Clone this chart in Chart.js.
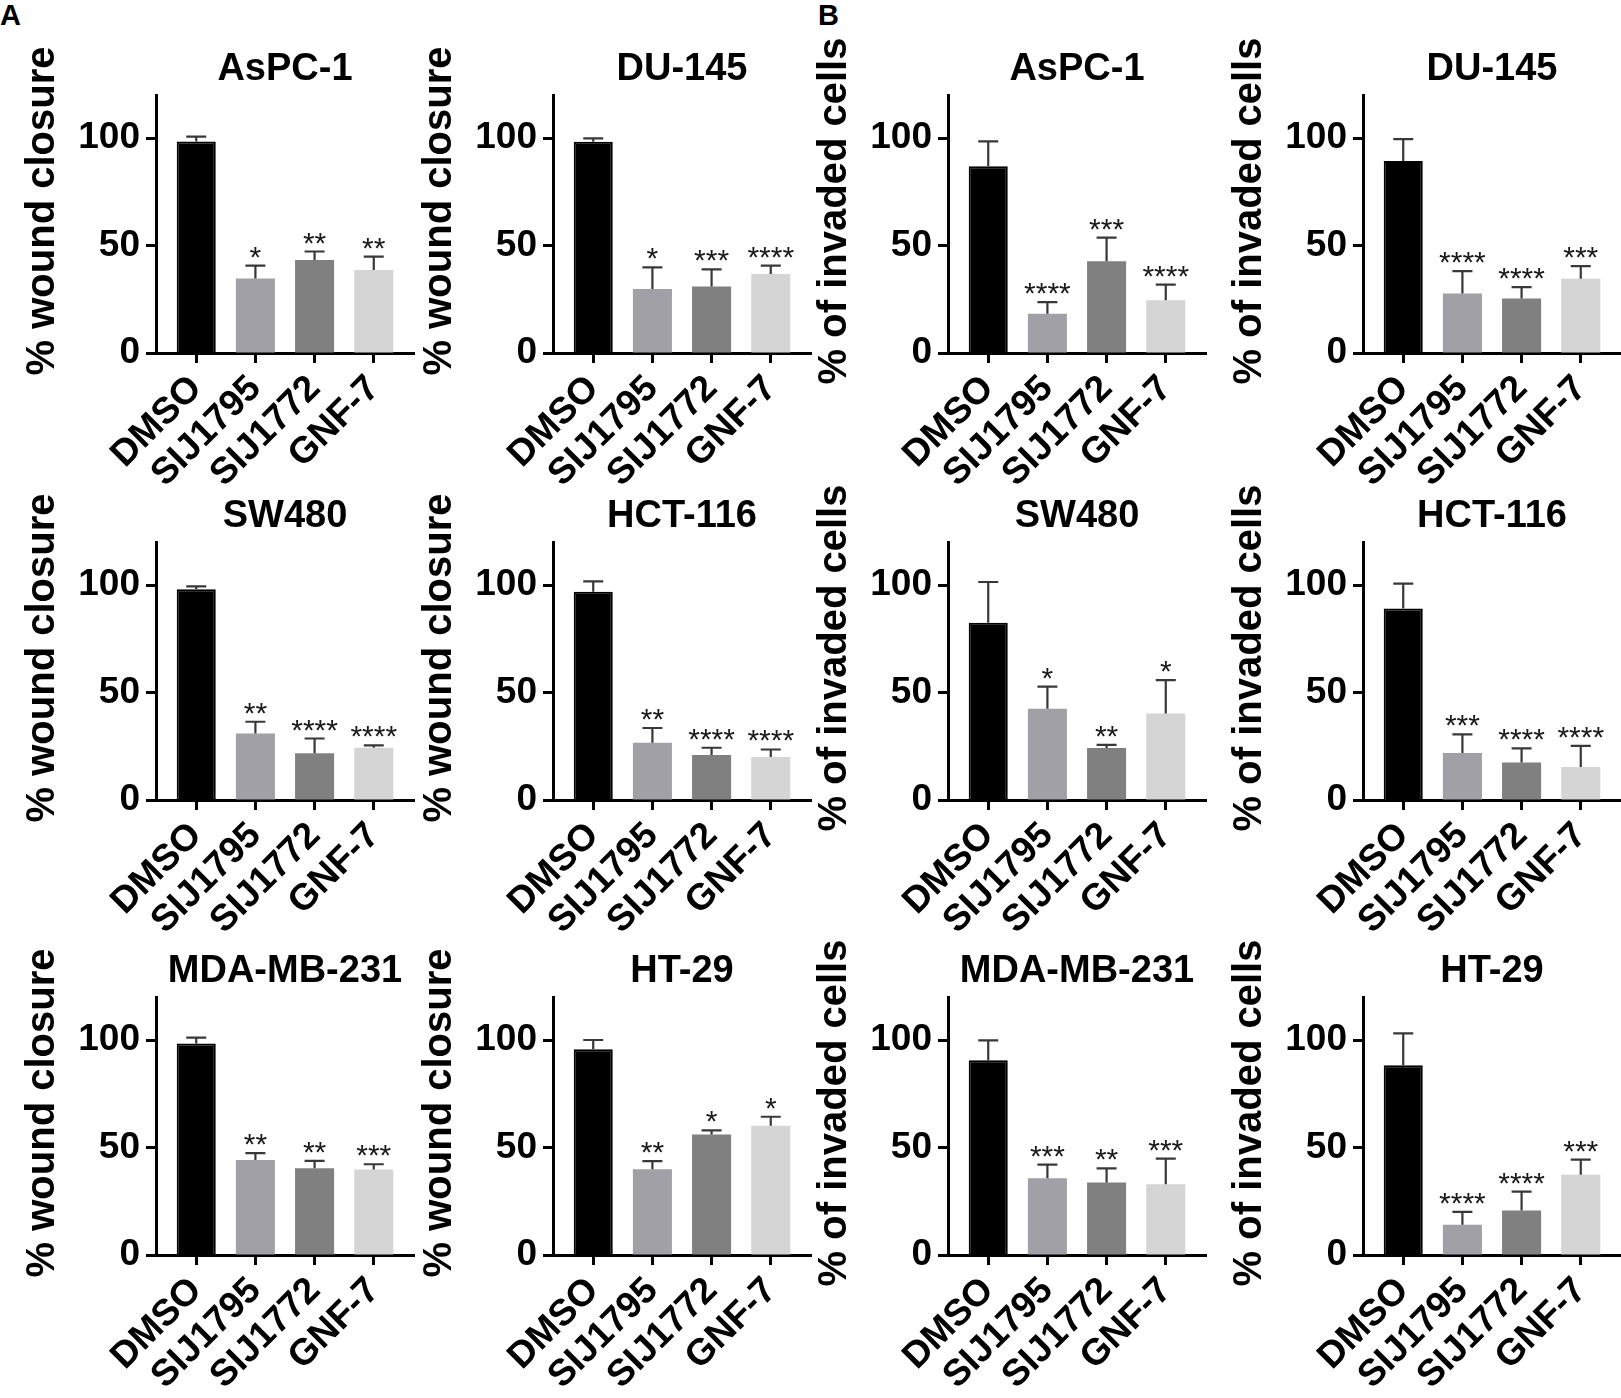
<!DOCTYPE html>
<html>
<head>
<meta charset="utf-8">
<script src="https://cdn.jsdelivr.net/npm/chart.js@4.4.1/dist/chart.umd.min.js"></script>
<style>
  html, body { margin: 0; padding: 0; background: #fff; }
  #page { position: relative; width: 1621px; height: 1398px; overflow: hidden; background: #fff; }
  #page canvas { position: absolute; }
  .tag { position: absolute; font-family: "Liberation Sans", Arial, sans-serif; font-weight: bold; font-size: 29px; line-height: 29px; color: #000; }
</style>
</head>
<body>
<div id="page">
  <div class="tag" style="left:0px;top:1px">A</div>
  <div class="tag" style="left:818px;top:1px">B</div>
</div>
<script>
/* ---------- data ---------- */
const GROUPS = ["DMSO", "SIJ1795", "SIJ1772", "GNF-7"];
const Y_TICKS = [0, 50, 100];
const Y_MAX = 120;
const WOUND_LABEL = "% wound closure";
const INVADE_LABEL = "% of invaded cells";

// A: wound closure (mean, SD, significance)
const woundAsPC1     = [98.4, 34.7, 43.3, 38.6];
const woundAsPC1Err  = [2.2, 5.9, 3.9, 6.2];
const woundAsPC1Sig  = ["", "*", "**", "**"];
const woundDU145     = [98.3, 29.8, 30.9, 36.7];
const woundDU145Err  = [1.5, 10.0, 8.0, 3.9];
const woundDU145Sig  = ["", "*", "***", "****"];
const woundSW480     = [98.0, 30.9, 21.7, 24.3];
const woundSW480Err  = [1.4, 5.5, 6.9, 1.1];
const woundSW480Sig  = ["", "**", "****", "****"];
const woundHCT116    = [96.9, 26.6, 20.9, 20.0];
const woundHCT116Err = [4.8, 6.9, 3.4, 3.5];
const woundHCT116Sig = ["", "**", "****", "****"];
const woundMDA       = [98.4, 44.2, 40.4, 39.8];
const woundMDAErr    = [2.7, 3.2, 3.4, 2.4];
const woundMDASig    = ["", "**", "**", "***"];
const woundHT29      = [95.7, 39.9, 56.0, 60.1];
const woundHT29Err   = [4.3, 3.8, 2.0, 4.2];
const woundHT29Sig   = ["", "**", "*", "*"];

// B: invaded cells (mean, SD, significance)
const invAsPC1     = [86.9, 18.2, 42.7, 24.5];
const invAsPC1Err  = [11.5, 5.5, 11.0, 7.3];
const invAsPC1Sig  = ["", "****", "***", "****"];
const invDU145     = [89.3, 27.7, 25.4, 34.5];
const invDU145Err  = [10.2, 10.4, 5.2, 5.9];
const invDU145Sig  = ["", "****", "****", "***"];
const invSW480     = [82.5, 42.5, 24.2, 40.2];
const invSW480Err  = [18.9, 10.2, 1.4, 15.6];
const invSW480Sig  = ["", "*", "**", "*"];
const invHCT116    = [89.1, 21.9, 17.5, 15.3];
const invHCT116Err = [11.5, 8.6, 6.5, 9.9];
const invHCT116Sig = ["", "***", "****", "****"];
const invMDA       = [90.6, 35.7, 33.7, 32.9];
const invMDAErr    = [9.2, 6.3, 6.6, 11.9];
const invMDASig    = ["", "***", "**", "***"];
const invHT29      = [88.2, 14.1, 20.7, 37.3];
const invHT29Err   = [14.9, 6.0, 8.8, 7.1];
const invHT29Sig   = ["", "****", "****", "***"];

/* ---------- look & layout ---------- */
const FONT = '"Liberation Sans", Arial, Helvetica, sans-serif';
const BAR_COLORS = ["#000000", "#a0a0a6", "#808080", "#d5d5d5"];
const COL_X = [156, 553, 948, 1363];   // y-axis line of each column
const ROW_TOP = [95, 542, 997];        // top of each plot area
const PLOT_W = 258, PLOT_H = 258;
const AXIS_W = 140, TITLE_H = 75, XLAB_H = 150;

const PANELS = [
  { title: "AsPC-1",     y: WOUND_LABEL,  mean: woundAsPC1,  err: woundAsPC1Err,  sig: woundAsPC1Sig,  col: 0, row: 0 },
  { title: "DU-145",     y: WOUND_LABEL,  mean: woundDU145,  err: woundDU145Err,  sig: woundDU145Sig,  col: 1, row: 0 },
  { title: "AsPC-1",     y: INVADE_LABEL, mean: invAsPC1,    err: invAsPC1Err,    sig: invAsPC1Sig,    col: 2, row: 0 },
  { title: "DU-145",     y: INVADE_LABEL, mean: invDU145,    err: invDU145Err,    sig: invDU145Sig,    col: 3, row: 0 },
  { title: "SW480",      y: WOUND_LABEL,  mean: woundSW480,  err: woundSW480Err,  sig: woundSW480Sig,  col: 0, row: 1 },
  { title: "HCT-116",    y: WOUND_LABEL,  mean: woundHCT116, err: woundHCT116Err, sig: woundHCT116Sig, col: 1, row: 1 },
  { title: "SW480",      y: INVADE_LABEL, mean: invSW480,    err: invSW480Err,    sig: invSW480Sig,    col: 2, row: 1 },
  { title: "HCT-116",    y: INVADE_LABEL, mean: invHCT116,   err: invHCT116Err,   sig: invHCT116Sig,   col: 3, row: 1 },
  { title: "MDA-MB-231", y: WOUND_LABEL,  mean: woundMDA,    err: woundMDAErr,    sig: woundMDASig,    col: 0, row: 2 },
  { title: "HT-29",      y: WOUND_LABEL,  mean: woundHT29,   err: woundHT29Err,   sig: woundHT29Sig,   col: 1, row: 2 },
  { title: "MDA-MB-231", y: INVADE_LABEL, mean: invMDA,      err: invMDAErr,      sig: invMDASig,      col: 2, row: 2 },
  { title: "HT-29",      y: INVADE_LABEL, mean: invHT29,     err: invHT29Err,     sig: invHT29Sig,     col: 3, row: 2 },
];

// upper SD whisker + significance stars above each bar
const errorBars = {
  id: "errorBars",
  afterDatasetsDraw(chart) {
    const { ctx } = chart;
    const y = chart.scales.y;
    const ds = chart.data.datasets[0];
    const meta = chart.getDatasetMeta(0);
    ctx.save();
    ctx.strokeStyle = "#383838";
    ctx.lineWidth = 2.2;
    ctx.fillStyle = "#1a1a1a";
    ctx.font = "30px " + FONT;
    ctx.textAlign = "center";
    ctx.textBaseline = "alphabetic";
    meta.data.forEach((bar, i) => {
      const top = y.getPixelForValue(ds.data[i].y + ds.err[i]);
      ctx.beginPath();
      ctx.moveTo(bar.x, bar.y);
      ctx.lineTo(bar.x, top);
      ctx.moveTo(bar.x - 10, top);
      ctx.lineTo(bar.x + 10, top);
      ctx.stroke();
      if (ds.sig[i]) ctx.fillText(ds.sig[i], bar.x, top + 1);
    });
    ctx.restore();
  }
};

// rotated y-axis title, sitting a little above the middle of the plot like the original
const yTitle = {
  id: "yTitle",
  afterDraw(chart, args, opts) {
    const { ctx, chartArea } = chart;
    ctx.save();
    ctx.translate(chartArea.left - opts.gap, (chartArea.top + chartArea.bottom) / 2 - opts.lift);
    ctx.rotate(-Math.PI / 2);
    ctx.font = "bold 40px " + FONT;
    ctx.fillStyle = "#000";
    ctx.textAlign = "center";
    ctx.textBaseline = "middle";
    ctx.fillText(opts.text, 0, 0);
    ctx.restore();
  }
};

const page = document.getElementById("page");

function makeChart(p) {
  const w = AXIS_W + PLOT_W + 8, h = TITLE_H + PLOT_H + XLAB_H;
  const canvas = document.createElement("canvas");
  canvas.width = w;
  canvas.height = h;
  canvas.style.left = (COL_X[p.col] - AXIS_W) + "px";
  canvas.style.top = (ROW_TOP[p.row] - TITLE_H) + "px";
  canvas.style.width = w + "px";
  canvas.style.height = h + "px";
  page.appendChild(canvas);

  const titleSize = 38;
  const titleBox = titleSize * 1.2 + 3;

  new Chart(canvas, {
    type: "bar",
    data: {
      datasets: [{
        data: p.mean.map((v, i) => ({ x: i, y: v })),
        err: p.err,
        sig: p.sig,
        backgroundColor: BAR_COLORS,
        borderColor: "#000",
        borderWidth: [2, 0, 0, 0],
        barPercentage: 0.66,
        categoryPercentage: 1
      }]
    },
    options: {
      responsive: false,
      animation: false,
      devicePixelRatio: 1,
      layout: { padding: { top: TITLE_H - titleBox, left: 0, right: 8, bottom: 0 } },
      plugins: {
        legend: { display: false },
        tooltip: { enabled: false },
        title: {
          display: true,
          text: p.title,
          fullSize: false,
          color: "#000",
          font: { family: FONT, size: titleSize, weight: "bold" },
          padding: { top: 0, bottom: 3 }
        },
        yTitle: { text: p.y, gap: 113, lift: 13 }
      },
      scales: {
        x: {
          type: "linear",
          min: -0.68,
          max: 3.68,
          offset: false,
          afterBuildTicks: s => { s.ticks = GROUPS.map((g, i) => ({ value: i })); },
          afterFit: s => { s.height = XLAB_H; },
          ticks: {
            callback: v => GROUPS[v],
            autoSkip: false,
            minRotation: 45,
            maxRotation: 45,
            padding: 4,
            color: "#000",
            font: { family: FONT, size: 37, weight: "bold" }
          },
          grid: { drawOnChartArea: false, offset: false, tickLength: 10, tickWidth: 3, tickColor: "#000" },
          border: { display: true, color: "#000", width: 3 }
        },
        y: {
          min: 0,
          max: Y_MAX,
          afterBuildTicks: s => { s.ticks = Y_TICKS.map(v => ({ value: v })); },
          afterFit: s => { s.width = AXIS_W; },
          ticks: {
            padding: 6,
            color: "#000",
            font: { family: FONT, size: 37, weight: "bold" }
          },
          grid: { drawOnChartArea: false, tickLength: 10, tickWidth: 3, tickColor: "#000" },
          border: { display: true, color: "#000", width: 3 }
        }
      }
    },
    plugins: [errorBars, yTitle]
  });
}

PANELS.forEach(makeChart);
</script>
</body>
</html>
